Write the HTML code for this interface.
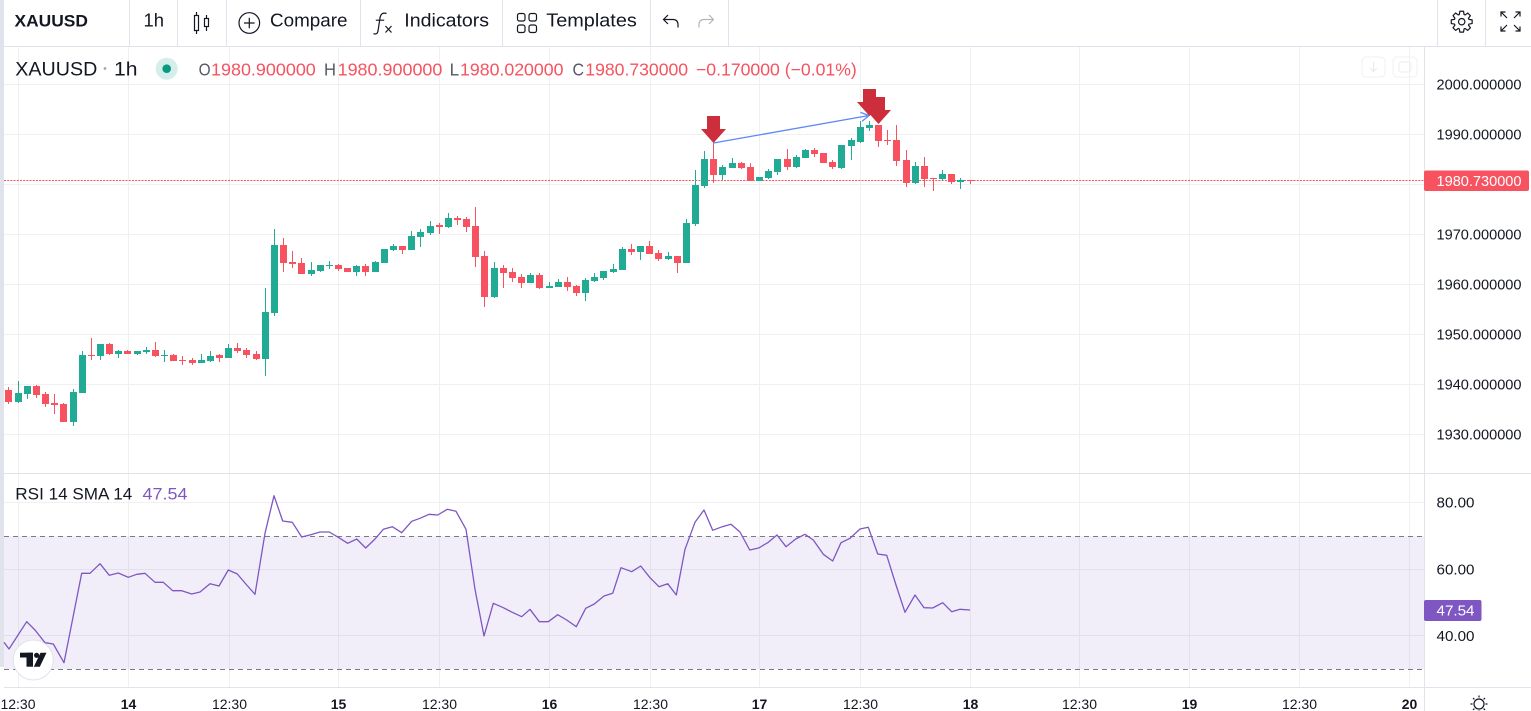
<!DOCTYPE html>
<html><head><meta charset="utf-8"><style>
html,body{margin:0;padding:0;background:#fff;overflow:hidden;width:1531px;height:711px}
svg{display:block}
</style></head><body>
<svg width="1531" height="711" viewBox="0 0 1531 711" xmlns="http://www.w3.org/2000/svg" font-family="'Liberation Sans', Arial, sans-serif">
<rect x="0" y="0" width="1531" height="711" fill="#fff"/>
<rect x="0" y="0" width="4" height="667" fill="#e0e3eb"/>
<rect x="4" y="536.3" width="1420" height="132.7" fill="#7e57c2" fill-opacity="0.1"/>
<path d="M18.5 47V473M128.5 47V473M229.5 47V473M338.5 47V473M439.5 47V473M549.5 47V473M650.5 47V473M759.5 47V473M860.5 47V473M970.5 47V473M1079.5 47V473M1189.5 47V473M1299.5 47V473M1409.5 47V473
M18.5 474V687M128.5 474V687M229.5 474V687M338.5 474V687M439.5 474V687M549.5 474V687M650.5 474V687M759.5 474V687M860.5 474V687M970.5 474V687M1079.5 474V687M1189.5 474V687M1299.5 474V687M1409.5 474V687
M4 84.5H1424M4 134.5H1424M4 184.5H1424M4 234.5H1424M4 284.5H1424M4 334.5H1424M4 384.5H1424M4 434.5H1424
M4 502.5H1424M4 569.5H1424M4 635.5H1424" stroke="#2a2e39" stroke-opacity="0.07" stroke-width="1" fill="none"/>
<path d="M4 536.5H1424M4 669.5H1424" stroke="#787b86" stroke-width="1" stroke-dasharray="5 4" fill="none"/>
<path d="M4 180.5H1424" stroke="#f7525f" stroke-width="1" stroke-dasharray="2 1.2" fill="none"/>
<rect x="1362" y="57" width="23" height="20" rx="4" fill="none" stroke="#eef0f3"/>
<path d="M1373.5 62V71M1370 68L1373.5 71.5L1377 68" stroke="#e6e8ec" fill="none"/>
<rect x="1393" y="57" width="24" height="20" rx="4" fill="none" stroke="#eef0f3"/>
<rect x="1399" y="62" width="12" height="10" rx="2" fill="none" stroke="#eceef2"/>

<g fill="#22ab94">
<rect x="18" y="381" width="1" height="22"/><rect x="15" y="393" width="7" height="9"/>
<rect x="27" y="386" width="1" height="13"/><rect x="24" y="386" width="7" height="8"/>
<rect x="73" y="389" width="1" height="37"/><rect x="70" y="392" width="7" height="30"/>
<rect x="82" y="351" width="1" height="42"/><rect x="79" y="355" width="7" height="38"/>
<rect x="100" y="344" width="1" height="16"/><rect x="97" y="344" width="7" height="12"/>
<rect x="118" y="350" width="1" height="8"/><rect x="115" y="351" width="7" height="3"/>
<rect x="137" y="351" width="1" height="4"/><rect x="134" y="351" width="7" height="3"/>
<rect x="146" y="347" width="1" height="7"/><rect x="143" y="350" width="7" height="2"/>
<rect x="164" y="350" width="1" height="12"/><rect x="161" y="355" width="7" height="1"/>
<rect x="201" y="354" width="1" height="9"/><rect x="198" y="360" width="7" height="3"/>
<rect x="210" y="351" width="1" height="11"/><rect x="207" y="356" width="7" height="5"/>
<rect x="228" y="344" width="1" height="14"/><rect x="225" y="348" width="7" height="10"/>
<rect x="265" y="288" width="1" height="88"/><rect x="262" y="312" width="7" height="47"/>
<rect x="274" y="229" width="1" height="87"/><rect x="271" y="245" width="7" height="68"/>
<rect x="311" y="262" width="1" height="14"/><rect x="308" y="270" width="7" height="4"/>
<rect x="320" y="265" width="1" height="7"/><rect x="317" y="265" width="7" height="6"/>
<rect x="329" y="261" width="1" height="8"/><rect x="326" y="265" width="7" height="1"/>
<rect x="356" y="265" width="1" height="11"/><rect x="353" y="266" width="7" height="6"/>
<rect x="375" y="261" width="1" height="11"/><rect x="372" y="262" width="7" height="10"/>
<rect x="384" y="249" width="1" height="14"/><rect x="381" y="249" width="7" height="14"/>
<rect x="393" y="244" width="1" height="7"/><rect x="390" y="246" width="7" height="4"/>
<rect x="411" y="231" width="1" height="19"/><rect x="408" y="236" width="7" height="14"/>
<rect x="420" y="229" width="1" height="18"/><rect x="417" y="232" width="7" height="5"/>
<rect x="430" y="221" width="1" height="14"/><rect x="427" y="226" width="7" height="7"/>
<rect x="448" y="213" width="1" height="15"/><rect x="445" y="218" width="7" height="9"/>
<rect x="494" y="262" width="1" height="36"/><rect x="491" y="268" width="7" height="29"/>
<rect x="530" y="273" width="1" height="10"/><rect x="527" y="275" width="7" height="8"/>
<rect x="549" y="282" width="1" height="6"/><rect x="546" y="286" width="7" height="2"/>
<rect x="558" y="279" width="1" height="8"/><rect x="555" y="282" width="7" height="5"/>
<rect x="585" y="278" width="1" height="23"/><rect x="582" y="280" width="7" height="13"/>
<rect x="594" y="273" width="1" height="9"/><rect x="591" y="277" width="7" height="4"/>
<rect x="603" y="271" width="1" height="9"/><rect x="600" y="271" width="7" height="7"/>
<rect x="613" y="264" width="1" height="9"/><rect x="610" y="269" width="7" height="3"/>
<rect x="622" y="247" width="1" height="23"/><rect x="619" y="249" width="7" height="21"/>
<rect x="640" y="246" width="1" height="14"/><rect x="637" y="246" width="7" height="6"/>
<rect x="668" y="252" width="1" height="8"/><rect x="665" y="256" width="7" height="3"/>
<rect x="686" y="219" width="1" height="44"/><rect x="683" y="223" width="7" height="40"/>
<rect x="695" y="170" width="1" height="56"/><rect x="692" y="185" width="7" height="39"/>
<rect x="704" y="151" width="1" height="37"/><rect x="701" y="159" width="7" height="27"/>
<rect x="722" y="165" width="1" height="15"/><rect x="719" y="167" width="7" height="8"/>
<rect x="732" y="158" width="1" height="10"/><rect x="729" y="163" width="7" height="5"/>
<rect x="759" y="177" width="1" height="4"/><rect x="756" y="177" width="7" height="4"/>
<rect x="768" y="169" width="1" height="10"/><rect x="765" y="171" width="7" height="7"/>
<rect x="777" y="159" width="1" height="16"/><rect x="774" y="159" width="7" height="13"/>
<rect x="796" y="155" width="1" height="13"/><rect x="793" y="157" width="7" height="10"/>
<rect x="805" y="149" width="1" height="9"/><rect x="802" y="150" width="7" height="8"/>
<rect x="841" y="145" width="1" height="24"/><rect x="838" y="145" width="7" height="23"/>
<rect x="851" y="138" width="1" height="22"/><rect x="848" y="140" width="7" height="6"/>
<rect x="860" y="121" width="1" height="22"/><rect x="857" y="127" width="7" height="15"/>
<rect x="869" y="121" width="1" height="10"/><rect x="866" y="125" width="7" height="3"/>
<rect x="915" y="162" width="1" height="22"/><rect x="912" y="166" width="7" height="17"/>
<rect x="942" y="170" width="1" height="11"/><rect x="939" y="174" width="7" height="5"/>
<rect x="960" y="178" width="1" height="11"/><rect x="957" y="180" width="7" height="2"/>
</g>
<g fill="#f7525f">
<rect x="8" y="387" width="1" height="17"/><rect x="5" y="390" width="7" height="12"/>
<rect x="36" y="385" width="1" height="13"/><rect x="33" y="386" width="7" height="9"/>
<rect x="45" y="392" width="1" height="15"/><rect x="42" y="394" width="7" height="10"/>
<rect x="54" y="394" width="1" height="20"/><rect x="51" y="403" width="7" height="2"/>
<rect x="63" y="403" width="1" height="19"/><rect x="60" y="404" width="7" height="18"/>
<rect x="91" y="338" width="1" height="22"/><rect x="88" y="355" width="7" height="1"/>
<rect x="109" y="343" width="1" height="12"/><rect x="106" y="344" width="7" height="10"/>
<rect x="127" y="350" width="1" height="4"/><rect x="124" y="351" width="7" height="3"/>
<rect x="155" y="342" width="1" height="15"/><rect x="152" y="350" width="7" height="6"/>
<rect x="173" y="354" width="1" height="7"/><rect x="170" y="355" width="7" height="6"/>
<rect x="182" y="356" width="1" height="9"/><rect x="179" y="360" width="7" height="1"/>
<rect x="192" y="358" width="1" height="7"/><rect x="189" y="360" width="7" height="3"/>
<rect x="219" y="354" width="1" height="8"/><rect x="216" y="355" width="7" height="3"/>
<rect x="237" y="343" width="1" height="10"/><rect x="234" y="348" width="7" height="3"/>
<rect x="246" y="348" width="1" height="10"/><rect x="243" y="350" width="7" height="5"/>
<rect x="256" y="351" width="1" height="9"/><rect x="253" y="354" width="7" height="5"/>
<rect x="283" y="238" width="1" height="34"/><rect x="280" y="245" width="7" height="18"/>
<rect x="292" y="251" width="1" height="17"/><rect x="289" y="262" width="7" height="2"/>
<rect x="301" y="258" width="1" height="16"/><rect x="298" y="263" width="7" height="11"/>
<rect x="338" y="264" width="1" height="7"/><rect x="335" y="265" width="7" height="4"/>
<rect x="347" y="268" width="1" height="4"/><rect x="344" y="268" width="7" height="4"/>
<rect x="365" y="264" width="1" height="12"/><rect x="362" y="266" width="7" height="6"/>
<rect x="402" y="246" width="1" height="8"/><rect x="399" y="246" width="7" height="4"/>
<rect x="439" y="223" width="1" height="11"/><rect x="436" y="225" width="7" height="2"/>
<rect x="457" y="216" width="1" height="9"/><rect x="454" y="218" width="7" height="2"/>
<rect x="466" y="217" width="1" height="15"/><rect x="463" y="219" width="7" height="8"/>
<rect x="475" y="207" width="1" height="60"/><rect x="472" y="226" width="7" height="31"/>
<rect x="484" y="251" width="1" height="56"/><rect x="481" y="256" width="7" height="41"/>
<rect x="503" y="265" width="1" height="23"/><rect x="500" y="268" width="7" height="5"/>
<rect x="512" y="268" width="1" height="14"/><rect x="509" y="272" width="7" height="6"/>
<rect x="521" y="274" width="1" height="14"/><rect x="518" y="277" width="7" height="6"/>
<rect x="539" y="273" width="1" height="16"/><rect x="536" y="275" width="7" height="13"/>
<rect x="567" y="277" width="1" height="14"/><rect x="564" y="282" width="7" height="5"/>
<rect x="576" y="285" width="1" height="11"/><rect x="573" y="286" width="7" height="7"/>
<rect x="631" y="244" width="1" height="11"/><rect x="628" y="249" width="7" height="3"/>
<rect x="649" y="241" width="1" height="13"/><rect x="646" y="246" width="7" height="8"/>
<rect x="658" y="250" width="1" height="11"/><rect x="655" y="253" width="7" height="6"/>
<rect x="677" y="256" width="1" height="17"/><rect x="674" y="256" width="7" height="7"/>
<rect x="713" y="143" width="1" height="40"/><rect x="710" y="159" width="7" height="16"/>
<rect x="741" y="162" width="1" height="7"/><rect x="738" y="163" width="7" height="5"/>
<rect x="750" y="163" width="1" height="18"/><rect x="747" y="167" width="7" height="14"/>
<rect x="787" y="149" width="1" height="21"/><rect x="784" y="159" width="7" height="8"/>
<rect x="814" y="148" width="1" height="9"/><rect x="811" y="150" width="7" height="4"/>
<rect x="823" y="153" width="1" height="10"/><rect x="820" y="153" width="7" height="10"/>
<rect x="832" y="160" width="1" height="9"/><rect x="829" y="162" width="7" height="5"/>
<rect x="878" y="125" width="1" height="22"/><rect x="875" y="125" width="7" height="16"/>
<rect x="887" y="130" width="1" height="15"/><rect x="884" y="140" width="7" height="1"/>
<rect x="896" y="125" width="1" height="41"/><rect x="893" y="140" width="7" height="21"/>
<rect x="906" y="150" width="1" height="37"/><rect x="903" y="160" width="7" height="23"/>
<rect x="924" y="157" width="1" height="30"/><rect x="921" y="166" width="7" height="13"/>
<rect x="933" y="178" width="1" height="13"/><rect x="930" y="178" width="7" height="1"/>
<rect x="951" y="174" width="1" height="10"/><rect x="948" y="174" width="7" height="8"/>
<rect x="970" y="180" width="1" height="4"/><rect x="967" y="180" width="7" height="1"/>
</g>

<path d="M713.5 143L869 115.5M869 115.5L860.5 112.4M869 115.5L862.1 121.3" stroke="#5d87f5" stroke-width="1.3" fill="none"/>
<g fill="#cc2e3b">
<rect x="707" y="116" width="13" height="13"/><polygon points="701,129 726,129 713.5,143"/>
<rect x="863" y="89" width="13" height="13"/><polygon points="857,102 882,102 869.5,116"/>
<rect x="872" y="97" width="13" height="13"/><polygon points="866,110 891,110 878.5,124"/>
</g>

<polyline fill="none" stroke="#7e57c2" stroke-width="1.3" stroke-linejoin="round" points="4,642.3 9,649 26.7,621.7 35,630 45,642.7 53.3,644 64,662.7 81.7,573.3 90,573.3 100,563.7 109.3,575.3 118.3,573 128.3,577.3 136.7,574.3 145,573.3 155,582.3 163.3,582.3 172.7,590.7 181.7,590.7 191.7,594 200,592 210,583.7 219,586 228.3,570 237.3,574 246.7,585 255,594.3 265,533.3 274,495.7 282.7,521 292.3,522.3 301.7,537 310.7,534.7 320,532 329.3,532 338.3,537.3 347.7,543.3 356.7,539 365.7,548 375,539 383.3,529.3 392.3,526.7 401.7,532.7 411.7,521.3 420,518.3 429,514.3 437.7,515 447.3,509.3 456,511.3 466,529.3 475,589.3 484,636 493.3,603.3 503.3,607.7 512.3,612.3 521.7,616.7 530,609.3 539.3,621.7 548.3,621.7 557.7,614.7 566.7,620 576.3,626.7 585.7,608.3 594.3,604 604,596 612.7,593.3 621,567.7 631.7,571.7 640.7,566 650,577.7 659,586.7 667.7,583.7 676.3,595 685,549.3 695,522.3 704,510 712.7,530.3 722.3,526.7 731,524.3 740,532 749.7,550 758.7,548 767.7,542.7 777,535 786,546.7 795.7,539 805,534.3 813.3,540 823.3,554.3 832.7,561 841,542.7 850,538.3 860,529 868.3,527.3 877.7,554 886.7,555.3 896,585 905,612.3 915,595 924,607.7 932.7,608 942.7,602.7 951.7,611.7 960,609.3 970,610"/>

<circle cx="33.3" cy="660" r="20" fill="#fff" stroke="#e0e3eb"/>
<g fill="#131722">
<rect x="20" y="652.7" width="13" height="4.8"/><rect x="26.5" y="652.7" width="6.5" height="14"/>
<circle cx="36.6" cy="655.3" r="2.6"/>
<polygon points="40.5,652.7 46.5,652.7 39.8,666.7 33.8,666.7"/>
</g>

<!-- separators / axes -->
<rect x="0" y="0" width="1531" height="46" fill="#fff"/>
<rect x="0" y="0" width="4" height="46" fill="#e0e3eb"/>
<path d="M0 46.5H1531M0 473.5H1531M4 687.5H1531M1424.5 47V711M129.5 0V46M177.5 0V46M226.5 0V46M360.5 0V46M502.5 0V46M650.5 0V46M728.5 0V46M1437.5 0V46M1485.5 0V46" stroke="#e0e3eb" stroke-width="1" fill="none"/>

<!-- toolbar -->
<g fill="#131722">
<text x="14.5" y="26.3" font-size="17" font-weight="bold" textLength="73.5" lengthAdjust="spacingAndGlyphs">XAUUSD</text>
<text x="143.5" y="26.3" font-size="18" textLength="20.5" lengthAdjust="spacingAndGlyphs">1h</text>
<text x="270" y="26.3" font-size="18" textLength="77.5" lengthAdjust="spacingAndGlyphs">Compare</text>
<text x="404.3" y="26.3" font-size="18" textLength="84.8" lengthAdjust="spacingAndGlyphs">Indicators</text>
<text x="546.3" y="26.3" font-size="18" textLength="90.5" lengthAdjust="spacingAndGlyphs">Templates</text>
</g>
<g stroke="#131722" stroke-width="1.2" fill="none">
<path d="M196.5 12V34M206.5 15V31"/>
<rect x="194.5" y="15.5" width="4" height="15" fill="#fff"/>
<rect x="204.5" y="18.5" width="4" height="8" fill="#fff"/>
<circle cx="249.3" cy="23" r="10.3"/>
<path d="M244 23H254.6M249.3 17.7V28.3"/>
<path d="M386.5 13.5C383 12.3 380.6 13.8 380 18L378 31C377.5 34 375.5 34.5 373.5 33.6M375.8 20.2H384.2M385.5 26L391.5 32.5M391.5 26L385.5 32.5"/>
<rect x="517.5" y="13.5" width="7.5" height="7.5" rx="2"/>
<rect x="529" y="13.5" width="7.5" height="7.5" rx="2"/>
<rect x="517.5" y="25" width="7.5" height="7.5" rx="2"/>
<rect x="529" y="25" width="7.5" height="7.5" rx="2"/>
<path d="M668 15L663.5 19.5L668 24M664 19.5H673Q678 19.5 678 25V27.5"/>
<path d="M1501 16.5V12H1505.5M1501.5 12.5L1507 18M1515.5 12H1520V16.5M1519.5 12.5L1514 18M1501 26.5V31H1505.5M1501.5 30.5L1507 25M1515.5 31H1520V26.5M1519.5 30.5L1514 25"/>
</g>
<path d="M709 15L713.5 19.5L709 24M713 19.5H704Q699 19.5 699 25V27.5" stroke="#b2b5be" stroke-width="1.2" fill="none"/>
<g transform="translate(1461.7,21.7)" stroke="#131722" stroke-width="1.2" fill="none" stroke-linejoin="round">
<polygon points="-2.35,-7.23 -1.84,-10.44 1.84,-10.44 2.35,-7.23 3.45,-6.77 6.08,-8.68 8.68,-6.08 6.77,-3.45 7.23,-2.35 10.44,-1.84 10.44,1.84 7.23,2.35 6.77,3.45 8.68,6.08 6.08,8.68 3.45,6.77 2.35,7.23 1.84,10.44 -1.84,10.44 -2.35,7.23 -3.45,6.77 -6.08,8.68 -8.68,6.08 -6.77,3.45 -7.23,2.35 -10.44,1.84 -10.44,-1.84 -7.23,-2.35 -6.77,-3.45 -8.68,-6.08 -6.08,-8.68 -3.45,-6.77"/>
<circle r="3.2"/>
</g>

<!-- legend -->
<text x="15.3" y="75.3" font-size="19.5" fill="#131722" textLength="82" lengthAdjust="spacingAndGlyphs">XAUUSD</text>
<circle cx="105" cy="68.5" r="1.4" fill="#a3a6af"/>
<text x="114" y="75.3" font-size="19.5" fill="#131722" textLength="23.5" lengthAdjust="spacingAndGlyphs">1h</text>
<circle cx="166.7" cy="68.7" r="11" fill="#d5eee9"/>
<circle cx="166.7" cy="68.7" r="4.3" fill="#089981"/>
<g font-size="17.7">
<text x="198.6" y="75.3" fill="#555862" textLength="12" lengthAdjust="spacingAndGlyphs">O</text>
<text x="211" y="75.3" fill="#f7525f" textLength="104.8" lengthAdjust="spacingAndGlyphs">1980.900000</text>
<text x="324" y="75.3" fill="#555862" textLength="12" lengthAdjust="spacingAndGlyphs">H</text>
<text x="337.6" y="75.3" fill="#f7525f" textLength="104.8" lengthAdjust="spacingAndGlyphs">1980.900000</text>
<text x="449.6" y="75.3" fill="#555862" textLength="9.5" lengthAdjust="spacingAndGlyphs">L</text>
<text x="460" y="75.3" fill="#f7525f" textLength="103.5" lengthAdjust="spacingAndGlyphs">1980.020000</text>
<text x="572.5" y="75.3" fill="#555862" textLength="11.5" lengthAdjust="spacingAndGlyphs">C</text>
<text x="585.3" y="75.3" fill="#f7525f" textLength="102.8" lengthAdjust="spacingAndGlyphs">1980.730000</text>
<text x="696" y="75.3" fill="#f7525f" textLength="160.8" lengthAdjust="spacingAndGlyphs">−0.170000 (−0.01%)</text>
</g>

<!-- RSI legend -->
<text x="15.3" y="499.3" font-size="17" fill="#131722" textLength="117" lengthAdjust="spacingAndGlyphs">RSI 14 SMA 14</text>
<text x="142.5" y="499.3" font-size="17" fill="#7e57c2" textLength="45" lengthAdjust="spacingAndGlyphs">47.54</text>

<!-- price axis -->
<g font-size="14.3" fill="#131722">
<text x="1436.5" y="89.4" textLength="85" lengthAdjust="spacingAndGlyphs">2000.000000</text>
<text x="1436.5" y="139.4" textLength="85" lengthAdjust="spacingAndGlyphs">1990.000000</text>
<text x="1436.5" y="239.4" textLength="85" lengthAdjust="spacingAndGlyphs">1970.000000</text>
<text x="1436.5" y="289.4" textLength="85" lengthAdjust="spacingAndGlyphs">1960.000000</text>
<text x="1436.5" y="339.4" textLength="85" lengthAdjust="spacingAndGlyphs">1950.000000</text>
<text x="1436.5" y="389.4" textLength="85" lengthAdjust="spacingAndGlyphs">1940.000000</text>
<text x="1436.5" y="439.4" textLength="85" lengthAdjust="spacingAndGlyphs">1930.000000</text>
<text x="1436.5" y="507.4" textLength="38" lengthAdjust="spacingAndGlyphs">80.00</text>
<text x="1436.5" y="574.4" textLength="38" lengthAdjust="spacingAndGlyphs">60.00</text>
<text x="1436.5" y="640.8" textLength="38" lengthAdjust="spacingAndGlyphs">40.00</text>
</g>
<rect x="1424" y="170.5" width="105" height="20.5" rx="2" fill="#f7525f"/>
<text x="1436.5" y="185.9" font-size="14.3" fill="#fff" textLength="85" lengthAdjust="spacingAndGlyphs">1980.730000</text>
<rect x="1424" y="600" width="57.5" height="21" rx="2" fill="#7e57c2"/>
<text x="1436.5" y="615.6" font-size="14.3" fill="#fff" textLength="38" lengthAdjust="spacingAndGlyphs">47.54</text>

<!-- time axis -->
<g font-size="14" fill="#131722" text-anchor="middle">
<text x="35.5" y="709" text-anchor="end">12:30</text>
<text x="128.5" y="709" font-weight="bold">14</text>
<text x="229.5" y="709">12:30</text>
<text x="338.5" y="709" font-weight="bold">15</text>
<text x="439.5" y="709">12:30</text>
<text x="549.5" y="709" font-weight="bold">16</text>
<text x="650.5" y="709">12:30</text>
<text x="759.5" y="709" font-weight="bold">17</text>
<text x="860.5" y="709">12:30</text>
<text x="970.5" y="709" font-weight="bold">18</text>
<text x="1079.5" y="709">12:30</text>
<text x="1189.5" y="709" font-weight="bold">19</text>
<text x="1299.5" y="709">12:30</text>
<text x="1409.5" y="709" font-weight="bold">20</text>
</g>
<g transform="translate(1479,704)" stroke="#131722" stroke-width="1.2" fill="none">
<circle r="5"/>
<path d="M0 -6.5V-8.5M0 6.5V8.5M-6.5 0H-8.5M6.5 0H8.5M4.6 -4.6L6 -6M-4.6 -4.6L-6 -6M4.6 4.6L6 6M-4.6 4.6L-6 6"/>
</g>
</svg>
</body></html>
